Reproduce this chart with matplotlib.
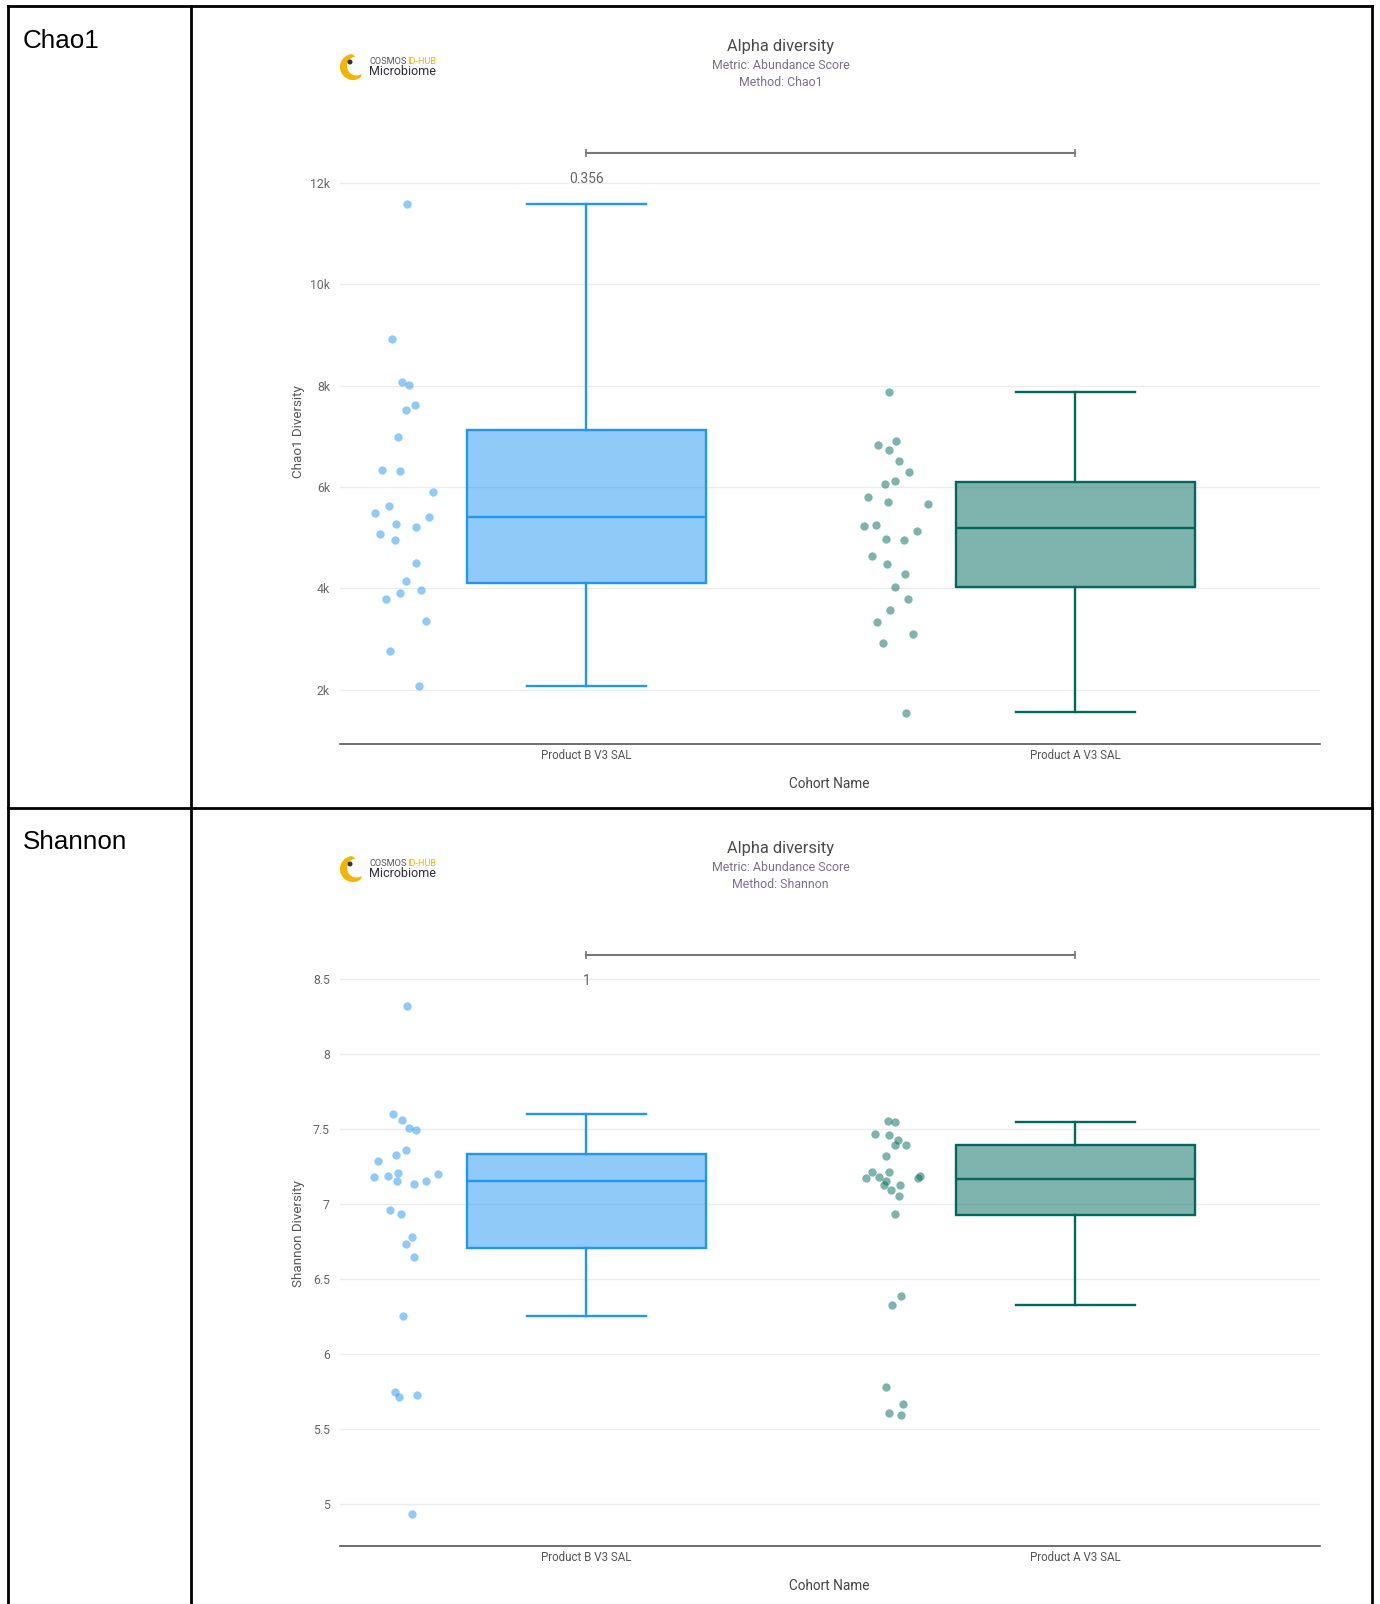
import numpy as np
import matplotlib.pyplot as plt
from matplotlib.patches import Polygon, Circle
from matplotlib.ticker import FuncFormatter

# ---- data ----
cohorts = ['Product B V3 SAL', 'Product A V3 SAL']

chao_b = [11584, 8925, 8076, 8006, 7618, 7512, 6988, 6330, 6309, 5892, 5624, 5482, 5397,
          5276, 5213, 5079, 4958, 4500, 4152, 3961, 3912, 3778, 3355, 2767, 2074]
chao_b_jit = [0.006, -0.023, -0.003, 0.011, 0.023, 0.005, -0.011, -0.044, -0.008, 0.061, -0.029,
              -0.059, 0.051, -0.016, 0.025, -0.048, -0.017, 0.025, 0.004, 0.035, -0.007, -0.037,
              0.046, -0.027, 0.032]
chao_a = [7875, 6834, 6900, 6735, 6511, 6300, 6050, 6109, 5800, 5694, 5661, 5233, 5240,
          4970, 4950, 5134, 4634, 4476, 4285, 4021, 3797, 3580, 3336, 3099, 2928, 1544]
chao_a_jit = [-0.007, -0.030, 0.008, -0.007, 0.014, 0.033, -0.015, 0.006, -0.050, -0.010, 0.072,
              -0.059, -0.033, -0.014, 0.024, 0.051, -0.041, -0.012, 0.025, 0.006, 0.032, -0.005,
              -0.031, 0.041, -0.020, 0.028]

shan_b = [8.319, 7.597, 7.559, 7.508, 7.495, 7.357, 7.324, 7.283, 7.207, 7.202, 7.181, 7.186,
          7.153, 7.156, 7.130, 6.959, 6.931, 6.781, 6.730, 6.648, 6.250, 5.742, 5.714, 5.722, 4.931]
shan_b_jit = [0.006, -0.022, -0.003, 0.011, 0.025, 0.005, -0.016, -0.053, -0.012, 0.070, -0.061,
              -0.033, -0.014, 0.046, 0.022, -0.027, -0.005, 0.017, 0.005, 0.022, -0.001, -0.017,
              -0.010, 0.027, 0.018]
shan_a = [7.553, 7.547, 7.465, 7.462, 7.429, 7.394, 7.396, 7.318, 7.212, 7.212, 7.170, 7.178,
          7.150, 7.125, 7.127, 7.185, 7.170, 7.092, 7.050, 6.930, 6.385, 6.323, 5.779, 5.666,
          5.602, 5.593]
shan_a_jit = [-0.009, 0.006, -0.036, -0.007, 0.011, 0.005, 0.028, -0.013, -0.041, -0.008, -0.054,
              -0.027, -0.013, -0.018, 0.015, 0.056, 0.052, -0.002, 0.013, 0.005, 0.018, 0.000,
              -0.013, 0.022, -0.007, 0.017]

# whislo, q1, median, q3, whishi
chao_b_box = [2074, 4099, 5397, 7117, 11584]
chao_a_box = [1555, 4020, 5180, 6105, 7880]
shan_b_box = [6.250, 6.709, 7.156, 7.332, 7.597]
shan_a_box = [6.323, 6.928, 7.168, 7.390, 7.548]

chao_ticks = [2000, 4000, 6000, 8000, 10000, 12000]
shan_ticks = [5, 5.5, 6, 6.5, 7, 7.5, 8, 8.5]

W, H = 1380, 1604
BLUE = '#2196F3'
TEAL = '#00695C'

plt.rcParams['font.family'] = ['Roboto', 'DejaVu Sans']

fig = plt.figure(figsize=(W / 100, H / 100), dpi=100)
bg = fig.add_axes([0, 0, 1, 1])
bg.set_xlim(0, W)
bg.set_ylim(H, 0)
bg.axis('off')

# table grid
for xs, ys in [([8, 8], [6, H]), ([1372, 1372], [6, H]), ([191, 191], [6, H]),
               ([8, 1372], [6, 6]), ([8, 1372], [808, 808])]:
    bg.plot(xs, ys, color='black', lw=2, solid_capstyle='projecting')
bg.text(23, 41, 'Chao1', fontsize=18.7, family=['Liberation Sans'], va='center', ha='left')
bg.text(23, 842, 'Shannon', fontsize=18.7, family=['Liberation Sans'], va='center', ha='left')


def logo(off):
    cx, cy = 353, 67 + off
    t = np.radians(np.linspace(95, 305, 40))
    outer = np.c_[cx + 13 * np.cos(t), cy - 13 * np.sin(t)]
    inner = np.c_[cx + 3.5 + 9.5 * np.cos(t[::-1]), cy - 1 - 9.5 * np.sin(t[::-1])]
    bg.add_patch(Polygon(np.vstack([outer, inner]), closed=True, color='#F4B400', lw=0))
    bg.add_patch(Circle((350, 62 + off), 1.8, color='#333333'))
    t1 = bg.text(369, 61 + off, 'COSMOS', fontsize=6.6, color='#555555', va='center', ha='left')
    bg.annotate('ID-HUB', xy=(1, 0.5), xycoords=t1, xytext=(0.8, 0), textcoords='offset points',
                fontsize=6.6, color='#F4B400', va='center', ha='left')
    bg.text(369, 71.5 + off, 'Microbiome', fontsize=9, color='#2b2b3a', va='center', ha='left')


def chart(off, b_vals, b_jit, a_vals, a_jit, b_box, a_box, ylim, ticks, fmt,
          ylabel, method, pval, bracket_y):
    logo(off)
    bg.text(780.5, 46 + off, 'Alpha diversity', fontsize=11.8, color='#4a4a4a', ha='center', va='center')
    bg.text(780.5, 65.5 + off, 'Metric: Abundance Score', fontsize=8.9, color='#7b7090',
            ha='center', va='center')
    bg.text(780.5, 82 + off, 'Method: ' + method, fontsize=8.9, color='#7b7090',
            ha='center', va='center')

    ax = fig.add_axes([339.6 / W, 1 - (743.7 + off) / H, (1319.7 - 339.6) / W, (743.7 - 143) / H])
    ax.patch.set_alpha(0)
    ax.set_xlim(-0.505, 1.5)
    ax.set_ylim(*ylim)

    stats = []
    for box in [b_box, a_box]:
        stats.append(dict(whislo=box[0], q1=box[1], med=box[2], q3=box[3], whishi=box[4]))
    bp = ax.bxp(stats, positions=[0, 1], widths=0.49, capwidths=[0.243, 0.243],
                patch_artist=True, showfliers=False)
    for i, c in enumerate([BLUE, TEAL]):
        bp['boxes'][i].set(facecolor=c + '80', edgecolor=c, linewidth=1.7)
        bp['medians'][i].set(color=c, linewidth=1.7)
        for j in (2 * i, 2 * i + 1):
            bp['whiskers'][j].set(color=c, linewidth=1.7)
            bp['caps'][j].set(color=c, linewidth=1.7)

    ax.scatter(-0.374 + np.array(b_jit), b_vals, s=36, color=BLUE, alpha=0.5, linewidths=0, zorder=3)
    ax.scatter(1 - 0.374 + np.array(a_jit), a_vals, s=36, color=TEAL, alpha=0.5, linewidths=0, zorder=3)

    ax.set_yticks(ticks)
    ax.yaxis.set_major_formatter(FuncFormatter(fmt))
    ax.yaxis.grid(True, color='#ececec', lw=1)
    ax.set_axisbelow(True)
    ax.set_xticks([0, 1])
    ax.set_xticklabels(cohorts)
    for s in ['left', 'right', 'top']:
        ax.spines[s].set_visible(False)
    ax.spines['bottom'].set_color('#555555')
    ax.spines['bottom'].set_linewidth(1.2)
    ax.tick_params(axis='y', length=0, pad=7, labelsize=8.8, labelcolor='#666666')
    ax.tick_params(axis='x', length=0, pad=4, labelsize=8.3, labelcolor='#555555')

    # significance bracket
    ax.plot([0, 1], [bracket_y, bracket_y], color='#777777', lw=1.5, clip_on=False)
    ax.plot([0, 1], [bracket_y, bracket_y], ls='none', marker='|', ms=6, mew=1.2,
            color='#777777', clip_on=False)
    ax.annotate(pval, xy=(0, bracket_y), xytext=(0, -18.5), textcoords='offset points',
                ha='center', va='center', fontsize=10, color='#666666')

    bg.text(298.7, 432 + off, ylabel, rotation=90, fontsize=9.6, color='#555555',
            ha='center', va='center')
    bg.text(829.6, 783.6 + off, 'Cohort Name', fontsize=9.8, color='#444444',
            ha='center', va='center')


chart(0, chao_b, chao_b_jit, chao_a, chao_a_jit, chao_b_box, chao_a_box,
      (930, 12792), chao_ticks, lambda v, p: '%dk' % round(v / 1000),
      'Chao1 Diversity', 'Chao1', '0.356', 12587)
chart(802, shan_b, shan_b_jit, shan_a, shan_a_jit, shan_b_box, shan_a_box,
      (4.72, 8.727), shan_ticks, lambda v, p: '%g' % v,
      'Shannon Diversity', 'Shannon', '1', 8.657)

fig.savefig('out.png', dpi=100)
